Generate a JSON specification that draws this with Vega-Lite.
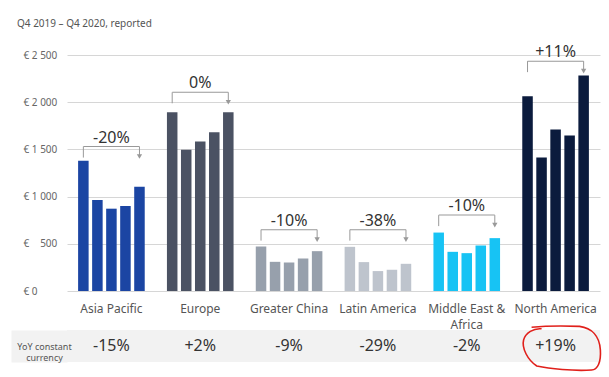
{
  "$schema": "https://vega.github.io/schema/vega-lite/v6.json",
  "background": "white",
  "padding": {"left": -5, "top": 19, "right": 0, "bottom": 0},
  "config": {"font": "Noto Sans", "view": {"stroke": null}},
  "title": {"text": "Q4 2019 – Q4 2020, reported", "anchor": "start", "fontSize": 10, "fontWeight": "normal", "color": "#555555", "offset": 15, "dx": 22},
  "spacing": -9,
  "datasets": {
    "bars": [
      {"region": "Asia Pacific", "quarter": "Q4 2019", "value": 1379},
      {"region": "Asia Pacific", "quarter": "Q1 2020", "value": 964},
      {"region": "Asia Pacific", "quarter": "Q2 2020", "value": 872},
      {"region": "Asia Pacific", "quarter": "Q3 2020", "value": 901},
      {"region": "Asia Pacific", "quarter": "Q4 2020", "value": 1105},
      {"region": "Europe", "quarter": "Q4 2019", "value": 1893},
      {"region": "Europe", "quarter": "Q1 2020", "value": 1496},
      {"region": "Europe", "quarter": "Q2 2020", "value": 1584},
      {"region": "Europe", "quarter": "Q3 2020", "value": 1682},
      {"region": "Europe", "quarter": "Q4 2020", "value": 1893},
      {"region": "Greater China", "quarter": "Q4 2019", "value": 471},
      {"region": "Greater China", "quarter": "Q1 2020", "value": 309},
      {"region": "Greater China", "quarter": "Q2 2020", "value": 302},
      {"region": "Greater China", "quarter": "Q3 2020", "value": 344},
      {"region": "Greater China", "quarter": "Q4 2020", "value": 422},
      {"region": "Latin America", "quarter": "Q4 2019", "value": 468},
      {"region": "Latin America", "quarter": "Q1 2020", "value": 306},
      {"region": "Latin America", "quarter": "Q2 2020", "value": 211},
      {"region": "Latin America", "quarter": "Q3 2020", "value": 225},
      {"region": "Latin America", "quarter": "Q4 2020", "value": 288},
      {"region": "Middle East & Africa", "quarter": "Q4 2019", "value": 619},
      {"region": "Middle East & Africa", "quarter": "Q1 2020", "value": 415},
      {"region": "Middle East & Africa", "quarter": "Q2 2020", "value": 401},
      {"region": "Middle East & Africa", "quarter": "Q3 2020", "value": 482},
      {"region": "Middle East & Africa", "quarter": "Q4 2020", "value": 560},
      {"region": "North America", "quarter": "Q4 2019", "value": 2062},
      {"region": "North America", "quarter": "Q1 2020", "value": 1415},
      {"region": "North America", "quarter": "Q2 2020", "value": 1711},
      {"region": "North America", "quarter": "Q3 2020", "value": 1647},
      {"region": "North America", "quarter": "Q4 2020", "value": 2284}
    ],
    "regions": [
      {"region": "Asia Pacific", "reported": "-20%", "level": 1530, "metric": "YoY constant currency", "yoy": "-15%", "circled": false},
      {"region": "Europe", "reported": "0%", "level": 2105, "metric": "YoY constant currency", "yoy": "+2%", "circled": false},
      {"region": "Greater China", "reported": "-10%", "level": 650, "metric": "YoY constant currency", "yoy": "-9%", "circled": false},
      {"region": "Latin America", "reported": "-38%", "level": 650, "metric": "YoY constant currency", "yoy": "-29%", "circled": false},
      {"region": "Middle East & Africa", "reported": "-10%", "level": 804, "metric": "YoY constant currency", "yoy": "-2%", "circled": false},
      {"region": "North America", "reported": "+11%", "level": 2435, "metric": "YoY constant currency", "yoy": "+19%", "circled": true}
    ]
  },
  "vconcat": [
    {
      "width": 533,
      "height": 236,
      "layer": [
        {
          "data": {"name": "bars"},
          "mark": {"type": "bar"},
          "encoding": {
            "x": {
              "field": "region", "type": "nominal",
              "scale": {"type": "band", "domain": ["Asia Pacific", "Europe", "Greater China", "Latin America", "Middle East & Africa", "North America"], "paddingInner": 0.25, "paddingOuter": 0.125},
              "axis": {"title": null, "labelAngle": 0, "labelFontSize": 12, "labelColor": "#555555", "labelPadding": 12, "ticks": false, "domain": false, "labelOverlap": false, "labelLineHeight": 16, "labelExpr": "datum.value == 'Middle East & Africa' ? ['Middle East &', 'Africa'] : datum.value"}
            },
            "xOffset": {
              "field": "quarter", "type": "nominal",
              "scale": {"domain": ["Q4 2019", "Q1 2020", "Q2 2020", "Q3 2020", "Q4 2020"], "paddingInner": 0.25, "paddingOuter": 0}
            },
            "y": {
              "field": "value", "type": "quantitative",
              "scale": {"domain": [0, 2500], "nice": false},
              "axis": {"title": null, "values": [0, 500, 1000, 1500, 2000, 2500], "grid": true, "gridColor": "#d6d6d6", "domain": false, "ticks": false, "labelAlign": "left", "labelPadding": 44, "labelFontSize": 10, "labelColor": "#666666", "labelExpr": "datum.value == 500 ? '€ \u2007 500' : '€ ' + replace(format(datum.value, ','), ',', ' ')"}
            },
            "color": {
              "field": "region", "type": "nominal",
              "scale": {"domain": ["Asia Pacific", "Europe", "Greater China", "Latin America", "Middle East & Africa", "North America"], "range": ["#1b45a3", "#4b5263", "#97a0ac", "#bec4cd", "#17c3f4", "#0b1b3d"]},
              "legend": null
            }
          }
        },
        {
          "data": {"name": "regions"},
          "mark": {"type": "tick", "color": "#999999", "size": 56, "thickness": 1, "opacity": 1},
          "encoding": {
            "x": {"field": "region", "type": "nominal"},
            "y": {"field": "level", "type": "quantitative"}
          }
        },
        {
          "data": {"name": "regions"},
          "mark": {"type": "rule", "color": "#999999", "strokeWidth": 1, "y2Offset": 11},
          "encoding": {
            "x": {"field": "region", "type": "nominal"},
            "xOffset": {"datum": "Q4 2019"},
            "y": {"field": "level", "type": "quantitative"},
            "y2": {"field": "level"}
          }
        },
        {
          "data": {"name": "regions"},
          "mark": {"type": "rule", "color": "#999999", "strokeWidth": 1, "y2Offset": 9},
          "encoding": {
            "x": {"field": "region", "type": "nominal"},
            "xOffset": {"datum": "Q4 2020"},
            "y": {"field": "level", "type": "quantitative"},
            "y2": {"field": "level"}
          }
        },
        {
          "data": {"name": "regions"},
          "mark": {"type": "point", "shape": "triangle-down", "size": 28, "filled": true, "color": "#999999", "opacity": 1, "yOffset": 10},
          "encoding": {
            "x": {"field": "region", "type": "nominal"},
            "xOffset": {"datum": "Q4 2020"},
            "y": {"field": "level", "type": "quantitative"}
          }
        },
        {
          "data": {"name": "regions"},
          "mark": {"type": "text", "fontSize": 16, "color": "#333333", "baseline": "middle", "dy": -9},
          "encoding": {
            "x": {"field": "region", "type": "nominal"},
            "y": {"field": "level", "type": "quantitative"},
            "text": {"field": "reported"}
          }
        }
      ]
    },
    {
      "width": 533,
      "height": 32,
      "view": {"fill": "#f2f2f2", "stroke": null},
      "data": {"name": "regions"},
      "layer": [
        {
          "mark": {"type": "text", "fontSize": 16, "color": "#333333", "baseline": "middle"},
          "encoding": {
            "x": {
              "field": "region", "type": "nominal",
              "scale": {"type": "band", "domain": ["Asia Pacific", "Europe", "Greater China", "Latin America", "Middle East & Africa", "North America"], "paddingInner": 0.25, "paddingOuter": 0.125},
              "axis": null
            },
            "y": {
              "field": "metric", "type": "nominal",
              "axis": {"title": null, "domain": false, "ticks": true, "tickSize": 56, "tickWidth": 32, "tickColor": "#f2f2f2", "tickCap": "butt", "labelAlign": "center", "labelBaseline": "middle", "labelPadding": -33, "labelFontSize": 9, "labelColor": "#555555", "labelLineHeight": 11.5, "labelExpr": "['YoY constant', 'currency']"}
            },
            "text": {"field": "yoy"}
          }
        },
        {
          "transform": [{"filter": "datum.circled"}],
          "mark": {"type": "point", "shape": "M-0.75,-0.52 C-0.3,-0.56 0.2,-0.55 0.45,-0.54 C0.75,-0.5 0.95,-0.3 0.97,0.05 C0.99,0.35 0.9,0.55 0.75,0.55 C0.3,0.58 -0.3,0.52 -0.62,0.45 C-0.85,0.3 -1,0 -0.95,-0.2 C-0.9,-0.38 -0.7,-0.5 -0.5,-0.48", "size": 6400, "filled": false, "stroke": "#e0201b", "strokeWidth": 1.6, "opacity": 1, "xOffset": 6, "yOffset": 2},
          "encoding": {
            "x": {"field": "region", "type": "nominal"},
            "y": {"field": "metric", "type": "nominal"}
          }
        }
      ]
    }
  ]
}
